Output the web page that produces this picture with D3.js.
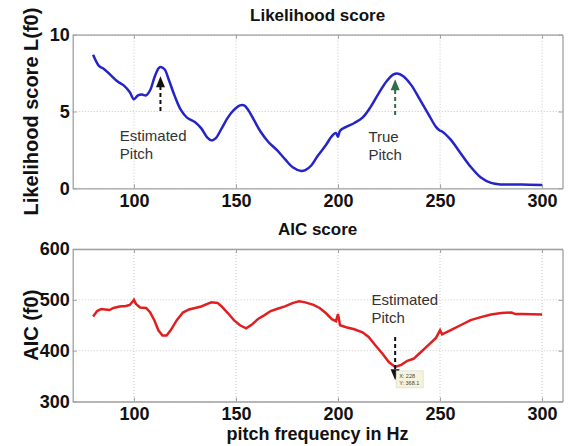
<!DOCTYPE html>
<html>
<head>
<meta charset="utf-8">
<script src="https://cdn.jsdelivr.net/npm/d3@7"></script>
<style>
  html, body { margin: 0; padding: 0; background: #fff; }
  svg { display: block; font-family: Arial, "Liberation Sans", sans-serif; }
</style>
</head>
<body>
<svg id="chart" width="569" height="446"></svg>
<script>
// likelihood curve (top)
const hz = [80, 83, 85, 88, 92, 95, 98, 100, 102, 104, 106, 108, 110, 112, 113, 115, 117, 120, 123, 126,
  130, 133, 136, 138, 140, 143, 146, 149, 152, 154, 156, 159, 162, 166, 170, 174, 178, 182, 184, 187,
  190, 194, 197, 199, 200, 201, 204, 208, 212, 216, 220, 224, 227, 229, 232, 236, 240, 244, 248, 250,
  251, 255, 260, 265, 270, 275, 280, 290, 300];
const likelihood = [8.7, 7.95, 7.8, 7.45, 6.95, 6.7, 6.25, 5.8, 6.05, 6.1, 6.05, 6.4, 7.2, 7.8, 7.9, 7.75, 7.1, 6.0, 5.1, 4.6,
  4.3, 3.9, 3.3, 3.12, 3.25, 3.9, 4.6, 5.1, 5.4, 5.4, 5.1, 4.4, 3.7, 3.0, 2.5, 1.9, 1.35, 1.12, 1.18, 1.5,
  2.1, 2.8, 3.4, 3.6, 3.35, 3.75, 4.0, 4.25, 4.6, 5.3, 6.2, 7.0, 7.4, 7.48, 7.3, 6.7, 5.8, 4.9, 4.0, 3.75,
  3.7, 3.2, 2.3, 1.4, 0.7, 0.35, 0.25, 0.25, 0.22];

// AIC curve (bottom)
const aicHz = [80, 82, 84, 86, 88, 90, 93, 96, 98, 100, 101, 103, 106, 108, 110, 112, 114, 116, 118, 121,
  124, 127, 130, 133, 136, 138, 141, 143, 146, 149, 152, 155, 158, 161, 164, 167, 170, 174, 178, 181,
  184, 188, 191, 194, 197, 199, 200, 201, 204, 208, 212, 215, 218, 222, 225, 228, 231, 234, 237, 240,
  244, 248, 250, 251, 255, 260, 265, 270, 275, 280, 285, 287, 290, 300];
const aic = [467, 478, 482, 481, 480, 484, 487, 488, 490, 500, 492, 485, 484, 475, 460, 440, 430, 430, 440, 460,
  475, 481, 484, 487, 492, 495, 494, 487, 474, 460, 450, 444, 452, 463, 470, 478, 482, 487, 494, 497,
  495, 490, 484, 474, 462, 458, 472, 450, 446, 442, 436, 427, 412, 393, 377, 368, 372, 380, 384, 395,
  410, 425, 440, 432, 440, 450, 460, 466, 471, 474, 475, 472, 472, 471];

const xTicks = [100, 150, 200, 250, 300];
const likeTicks = [0, 5, 10];
const aicTicks = [300, 400, 500, 600];

const svg = d3.select("#chart");
const left = 72.7, right = 562.5;

const x = d3.scaleLinear().domain([70, 310]).range([left, right]);
const yTop = d3.scaleLinear().domain([0, 10]).range([188.3, 34.7]);
const yBot = d3.scaleLinear().domain([300, 600]).range([401.5, 249]);

function panel(y, yTicks, title, titleY, ylabel) {
  const [y0, y1] = y.range();
  const g = svg.append("g");

  // grid
  g.selectAll(".gx").data(xTicks).enter().append("line")
    .attr("x1", d => x(d)).attr("x2", d => x(d))
    .attr("y1", y1).attr("y2", y0)
    .attr("stroke", "#c8c8c8").attr("stroke-dasharray", "1,2");
  g.selectAll(".gy").data(yTicks).enter().append("line")
    .attr("x1", left).attr("x2", right)
    .attr("y1", d => y(d)).attr("y2", d => y(d))
    .attr("stroke", "#c8c8c8").attr("stroke-dasharray", "1,2");

  // axes (ticks inside)
  g.append("g").attr("transform", `translate(0,${y0})`)
    .call(d3.axisBottom(x).tickValues(xTicks).tickSizeInner(-4).tickSizeOuter(0).tickPadding(6));
  g.append("g").attr("transform", `translate(0,${y1})`)
    .call(d3.axisTop(x).tickValues(xTicks).tickSizeInner(-4).tickSizeOuter(0).tickFormat(""));
  g.append("g").attr("transform", `translate(${left},0)`)
    .call(d3.axisLeft(y).tickValues(yTicks).tickSizeInner(-4).tickSizeOuter(0).tickPadding(3));
  g.append("g").attr("transform", `translate(${right},0)`)
    .call(d3.axisRight(y).tickValues(yTicks).tickSizeInner(-4).tickSizeOuter(0).tickFormat(""));

  g.selectAll(".domain").attr("stroke", "#a0a0a0").attr("stroke-width", 1.3);
  g.selectAll(".tick line").attr("stroke", "#a0a0a0");
  g.selectAll(".tick text")
    .attr("font-size", 18).attr("font-weight", "bold").attr("fill", "#111")
    .attr("font-family", "Arial, 'Liberation Sans', sans-serif");

  g.append("text")
    .attr("x", (left + right) / 2).attr("y", titleY)
    .attr("text-anchor", "middle").attr("font-size", 17).attr("font-weight", "bold")
    .attr("fill", "#111").text(title);

  g.append("text")
    .attr("transform", `translate(38,${(y0 + y1) / 2}) rotate(-90)`)
    .attr("text-anchor", "middle").attr("font-size", 20).attr("font-weight", "bold")
    .attr("fill", "#111").text(ylabel);
  return g;
}

panel(yTop, likeTicks, "Likelihood score", 21, "Likelihood score L(f0)");
panel(yBot, aicTicks, "AIC score", 235, "AIC (f0)");

// curves
svg.append("path").datum(hz.map((h, i) => [h, likelihood[i]]))
  .attr("d", d3.line().x(d => x(d[0])).y(d => yTop(d[1])).curve(d3.curveCatmullRom))
  .attr("fill", "none").attr("stroke", "#2424c8").attr("stroke-width", 2.5);

svg.append("path").datum(aicHz.map((h, i) => [h, aic[i]]))
  .attr("d", d3.line().x(d => x(d[0])).y(d => yBot(d[1])))
  .attr("fill", "none").attr("stroke", "#e02020").attr("stroke-width", 2.5);

// arrows
function arrow(xv, yFrom, yTo, y, color) {
  const xp = x(xv), a = y(yFrom), b = y(yTo);
  const dir = b < a ? 1 : -1;
  svg.append("line")
    .attr("x1", xp).attr("x2", xp).attr("y1", a).attr("y2", b + dir * 8)
    .attr("stroke", color).attr("stroke-width", 2).attr("stroke-dasharray", "4,3");
  svg.append("path")
    .attr("d", `M${xp},${b} L${xp - 4.5},${b + dir * 11} L${xp + 4.5},${b + dir * 11} Z`)
    .attr("fill", color);
}
arrow(113, 5.03, 7.3, yTop, "#111");
arrow(228, 4.77, 7.1, yTop, "#2e6e48");
arrow(228, 427, 342, yBot, "#111");

function label(lines, xv, yv, y) {
  const t = svg.append("text").attr("font-size", 15).attr("fill", "#333");
  lines.forEach((s, i) => {
    t.append("tspan").attr("x", x(xv)).attr("y", y(yv) + i * 18).text(s);
  });
}
label(["Estimated", "Pitch"], 93.1, 3.08, yTop);
label(["True", "Pitch"], 214.9, 3.04, yTop);
label(["Estimated", "Pitch"], 216.4, 490, yBot);

// data tip
const tipX = x(228) + 1, tipY = yBot(368.1) + 4;
svg.append("rect").attr("x", tipX).attr("y", tipY).attr("width", 27).attr("height", 17)
  .attr("fill", "#f6f3dc").attr("stroke", "#d8d6c4").attr("stroke-width", 0.6);
const tip = svg.append("text").attr("font-size", 5.5).attr("fill", "#444");
tip.append("tspan").attr("x", tipX + 3).attr("y", tipY + 7).text("X: 228");
tip.append("tspan").attr("x", tipX + 3).attr("y", tipY + 14).text("Y: 368.1");

// x label
svg.append("text")
  .attr("x", (left + right) / 2).attr("y", 440)
  .attr("text-anchor", "middle").attr("font-size", 18).attr("font-weight", "bold")
  .attr("fill", "#111").text("pitch frequency in Hz");
</script>
</body>
</html>
